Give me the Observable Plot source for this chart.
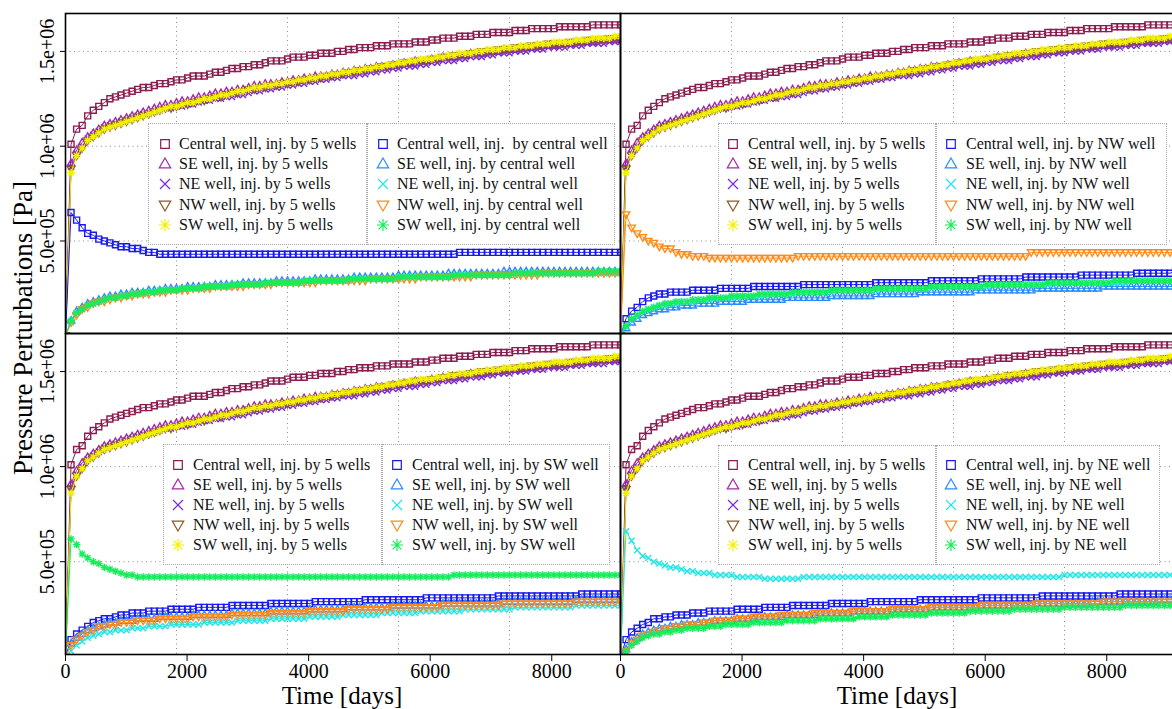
<!DOCTYPE html>
<html><head><meta charset="utf-8">
<script src="https://cdn.jsdelivr.net/npm/d3@7"></script>
<script src="https://cdn.jsdelivr.net/npm/@observablehq/plot@0.6"></script>
<style>
html,body{margin:0;padding:0;background:#fff;overflow:hidden;}
#fig{position:relative;width:1172px;height:709px;overflow:hidden;font-family:"Liberation Serif","Times New Roman",serif;color:#000;background:#fff;}
.pl{position:absolute;}
.leg{position:absolute;background:#fff;border:1px dotted #a8a8a8;box-sizing:border-box;}
.lt{position:absolute;font-family:"Liberation Serif",serif;font-size:16px;line-height:20px;height:20px;white-space:pre;color:#111;}
.ls{position:absolute;overflow:visible;}
.lab{position:absolute;white-space:nowrap;line-height:1;font-family:"Liberation Serif",serif;}
</style></head><body><div id="fig"></div>
<script>
// ---------------- data (pressure in units of 0.1 bar = 1e4 Pa) ----------------
const days = [0,91,183,274,365,457,548,639,731,822,913,1004,1096,1187,1278,1370,1461,1552,1644,1735,
1826,1918,2009,2100,2192,2283,2374,2465,2557,2648,2739,2831,2922,3013,3105,3196,3287,3379,3470,3561,
3653,3744,3835,3926,4018,4109,4200,4292,4383,4474,4566,4657,4748,4840,4931,5022,5114,5205,5296,5387,
5479,5570,5661,5753,5844,5935,6027,6118,6209,6301,6392,6483,6575,6666,6757,6848,6940,7031,7122,7214,
7305,7396,7488,7579,7670,7762,7853,7944,8036,8127,8218,8309,8401,8492,8583,8675,8766,8857,8949,9040,9131];
const xTicks = [0,2000,4000,6000,8000];
const xGridDays = [1826,3653,5479,7305];
const yTicks = [5e5,1e6,1.5e6];
const yTickLabels = ["5.0e+05","1.0e+06","1.5e+06"];
const wells = ["Central","SE","NE","NW","SW"];
const colors5 = ["#8b1c50","#a22aa8","#7b26dc","#8b5a2b","#f2f200"];
const colors1 = ["#1818f0","#2a8cff","#22e6e6","#ff8a1a","#14ee5a"];

// injected by 5 wells (same in every panel)
const central5 = [0,101,109,111,116,119,121,123,125,126,
127,128,129,130,131,131,132,133,133,134,
135,135,136,137,137,137,138,139,139,140,
141,141,142,142,143,143,144,145,145,145,
146,147,147,147,148,148,149,149,149,150,
150,151,151,152,152,152,153,153,153,154,
154,154,154,155,155,155,156,156,157,157,
157,158,158,158,159,159,159,160,160,160,
160,161,161,161,162,162,162,162,162,163,
163,163,163,163,163,164,164,164,164,164,164];
const se5 = [0,91,98,102,105,107,109,111,112,113,
114,115,116,117,118,119,120,121,122,122,
123,124,124,125,126,126,127,128,128,129,
129,130,130,131,132,132,133,133,133,134,
134,135,135,136,136,137,137,137,138,138,
139,139,140,140,141,141,142,142,142,143,
143,144,144,145,145,145,146,146,147,147,
147,148,148,149,149,149,150,150,150,151,
151,151,152,152,152,153,153,153,153,154,
154,154,155,155,155,155,156,156,156,156,157];
const ne5 = [0,89,96,100,104,106,108,110,111,112,
113,114,115,116,117,117,118,119,120,120,
121,121,122,122,123,124,124,125,125,126,
126,127,127,128,129,129,130,130,131,131,
132,132,133,133,134,134,135,135,136,136,
137,137,137,138,138,139,139,140,140,141,
141,142,142,142,143,143,144,144,145,145,
145,146,146,147,147,147,148,148,149,149,
149,150,150,150,151,151,151,152,152,152,
152,153,153,153,154,154,154,154,155,155,155];
const nw5 = [0,88,95,99,103,105,107,109,110,111,
112,113,114,115,116,117,118,119,120,120,
121,122,122,123,124,124,125,126,126,127,
128,128,129,130,130,131,131,132,132,133,
133,134,134,135,135,136,136,137,137,138,
138,139,139,140,140,141,141,142,142,143,
143,144,144,145,145,145,146,146,147,147,
148,148,148,149,149,150,150,150,151,151,
151,152,152,152,153,153,153,154,154,154,
154,155,155,155,156,156,156,156,157,157,157];
const sw5 = [0,86,95,99,103,105,107,109,110,111,
112,113,114,115,116,117,118,119,120,121,
121,122,123,123,124,125,125,126,127,127,
128,129,129,130,131,131,132,132,133,133,
134,134,135,135,136,136,137,137,138,138,
139,139,140,140,141,141,142,142,143,143,
144,144,145,145,146,146,146,147,147,148,
148,149,149,149,150,150,151,151,151,152,
152,152,153,153,153,154,154,154,155,155,
155,155,156,156,156,157,157,157,157,158,158];

// injected by central well
const centralByC = [0,65,61,57,54,53,51,50,49,48,
47,47,46,46,45,44,44,43,43,43,
43,43,43,43,43,43,43,43,43,43,
43,43,43,43,43,43,43,43,43,43,
43,43,43,43,43,43,43,43,43,43,
43,43,43,43,43,43,43,43,43,43,
43,43,43,43,43,43,43,43,43,43,
43,44,44,44,44,44,44,44,44,44,
44,44,44,44,44,44,44,44,44,44,
44,44,44,44,44,44,44,44,44,44,44];
const seByC = [0,8,13,15,17,18,19,20,21,21,
22,22,23,23,23,24,24,24,25,25,
25,25,26,26,26,26,26,27,27,27,
27,27,28,28,28,28,28,28,29,29,
29,29,29,29,29,30,30,30,30,30,
30,30,31,31,31,31,31,31,31,31,
32,32,32,32,32,32,32,32,32,33,
33,33,33,33,33,33,33,33,33,34,
34,34,34,34,34,34,34,34,34,34,
34,34,34,34,34,34,34,34,34,34,34];
const neByC = [0,7,12,14,16,17,18,19,20,20,
21,21,22,22,22,23,23,23,24,24,
24,25,25,25,25,25,26,26,26,26,
26,27,27,27,27,27,27,28,28,28,
28,28,28,28,29,29,29,29,29,29,
29,29,30,30,30,30,30,30,30,30,
30,31,31,31,31,31,31,31,31,31,
31,32,32,32,32,32,32,32,32,32,
32,32,33,33,33,33,33,33,33,33,
33,33,33,33,33,33,33,33,33,33,33];
const nwByC = [0,7,11,14,15,17,18,18,19,20,
20,21,21,22,22,22,23,23,23,24,
24,24,24,25,25,25,25,26,26,26,
26,26,26,27,27,27,27,27,28,28,
28,28,28,28,28,28,29,29,29,29,
29,29,29,29,29,30,30,30,30,30,
30,30,30,30,31,31,31,31,31,31,
31,31,31,31,32,32,32,32,32,32,
32,32,32,32,32,32,33,33,33,33,
33,33,33,33,33,33,33,33,33,33,33];
const swByC = [0,8,12,14,16,17,18,19,20,20,
21,21,22,22,23,23,23,24,24,24,
24,25,25,25,25,26,26,26,26,26,
27,27,27,27,27,27,28,28,28,28,
28,28,28,29,29,29,29,29,29,29,
29,30,30,30,30,30,30,30,30,30,
31,31,31,31,31,31,31,31,31,31,
32,32,32,32,32,32,32,32,32,32,
32,33,33,33,33,33,33,33,33,33,
33,33,33,33,33,33,34,34,34,34,34];

// injected by NW well
const centralByNW = [0,9,13,15,18,20,21,22,22,23,
23,23,23,24,24,24,24,24,25,25,
25,25,25,25,26,26,26,26,26,26,
26,26,26,27,27,27,27,27,27,27,
27,27,27,27,27,27,28,28,28,28,
28,28,28,28,28,28,29,29,29,29,
29,29,29,29,29,30,30,30,30,30,
30,30,30,31,31,31,31,31,31,31,
31,31,31,32,32,32,32,32,32,32,
32,32,32,33,33,33,33,33,33,33,34];
const seByNW = [0,4,7,9,11,12,13,14,14,15,
15,16,16,16,17,17,17,17,18,18,
18,18,18,19,19,19,19,19,19,19,
20,20,20,20,20,20,20,20,21,21,
21,21,21,21,21,21,22,22,22,22,
22,22,22,22,23,23,23,23,23,23,
23,23,23,23,24,24,24,24,24,24,
24,24,24,24,24,25,25,25,25,25,
25,25,25,25,25,25,25,26,26,26,
26,26,26,26,26,26,26,26,26,26,26];
const neByNW = [0,5,9,11,13,14,15,16,16,17,
17,18,18,18,19,19,19,20,20,20,
20,20,21,21,21,21,21,22,22,22,
22,22,23,23,23,23,23,23,23,24,
24,24,24,24,24,24,24,25,25,25,
25,25,25,25,25,25,25,26,26,26,
26,26,26,26,26,26,26,27,27,27,
27,27,27,27,27,27,27,27,28,28,
28,28,28,28,28,28,28,28,28,28,
28,28,29,29,29,29,29,29,29,29,29];
const nwByNW = [0,64,57,54,52,50,49,47,46,46,
44,43,43,42,42,42,41,41,41,41,
41,41,41,41,41,41,41,41,41,41,
41,41,42,42,42,42,42,42,42,42,
42,42,42,42,42,42,42,42,42,42,
42,42,42,42,42,42,42,42,42,42,
42,42,42,42,42,42,42,42,42,42,
42,42,42,42,44,44,44,44,44,44,
44,44,44,44,44,44,44,44,44,44,
44,44,44,44,44,44,44,44,44,44,44];
const swByNW = [0,5,9,11,13,14,15,16,17,17,
18,18,18,19,19,19,20,20,20,20,
21,21,21,21,21,22,22,22,22,22,
22,23,23,23,23,23,23,23,24,24,
24,24,24,24,24,24,25,25,25,25,
25,25,25,25,25,25,26,26,26,26,
26,26,26,26,26,26,27,27,27,27,
27,27,27,27,27,27,27,28,28,28,
28,28,28,28,28,28,28,28,28,29,
29,29,29,29,29,29,29,29,29,29,29];

// injected by SW well
const centralBySW = [0,9,12,14,16,18,19,20,20,21,
22,22,23,23,23,24,24,24,24,25,
25,25,25,25,26,26,26,26,26,26,
27,27,27,27,27,27,27,28,28,28,
28,28,28,28,28,29,29,29,29,29,
29,29,29,29,30,30,30,30,30,30,
30,30,30,30,30,31,31,31,31,31,
31,31,31,31,31,31,31,31,32,32,
32,32,32,32,32,32,32,32,32,32,
32,32,32,33,33,33,33,33,33,33,33];
const seBySW = [0,7,10,12,14,15,16,17,18,18,
19,19,19,20,20,20,20,21,21,21,
21,21,21,22,22,22,22,22,22,22,
23,23,23,23,23,23,23,24,24,24,
24,24,24,24,25,25,25,25,25,25,
25,26,26,26,26,26,26,26,26,27,
27,27,27,27,27,27,27,27,28,28,
28,28,28,28,28,28,28,28,28,29,
29,29,29,29,29,29,29,29,29,29,
29,29,30,30,30,30,30,30,30,30,30];
const neBySW = [0,3,6,8,10,11,12,13,13,14,
14,14,15,15,15,16,16,16,16,17,
17,17,17,17,17,18,18,18,18,18,
18,19,19,19,19,19,19,20,20,20,
20,20,20,20,21,21,21,21,21,21,
22,22,22,22,22,22,22,23,23,23,
23,23,23,23,24,24,24,24,24,24,
24,24,25,25,25,25,25,25,25,25,
25,26,26,26,26,26,26,26,26,26,
26,26,27,27,27,27,27,27,27,27,27];
const nwBySW = [0,6,9,11,13,14,16,16,17,17,
18,18,18,19,19,19,19,20,20,20,
20,20,20,21,21,21,21,21,21,21,
22,22,22,22,22,22,22,23,23,23,
23,23,23,23,24,24,24,24,24,24,
24,25,25,25,25,25,25,25,25,26,
26,26,26,26,26,26,26,26,27,27,
27,27,27,27,27,27,27,27,27,28,
28,28,28,28,28,28,28,28,28,28,
28,28,29,29,29,29,29,29,29,29,29];
const swBySW = [0,62,59,54,52,50,49,47,46,45,
44,43,43,42,42,42,42,42,42,42,
42,42,42,42,42,42,42,42,42,42,
42,42,42,42,42,42,42,42,42,42,
42,42,42,42,42,42,42,42,42,42,
42,42,42,42,42,42,42,42,42,42,
42,42,42,42,42,42,42,42,42,42,
43,43,43,43,43,43,43,43,43,43,
43,43,43,43,43,43,43,43,43,43,
43,43,43,43,43,43,43,43,43,43,43];

// injected by NE well
const centralByNE = [0,9,13,15,17,18,20,20,21,21,
22,22,22,23,23,23,24,24,24,24,
24,25,25,25,25,25,26,26,26,26,
26,27,27,27,27,27,27,27,28,28,
28,28,28,28,28,29,29,29,29,29,
29,29,29,29,30,30,30,30,30,30,
30,30,30,30,30,31,31,31,31,31,
31,31,31,31,31,31,32,32,32,32,
32,32,32,32,32,32,32,32,32,32,
33,33,33,33,33,33,33,33,33,33,33];
const seByNE = [0,4,8,10,12,13,14,15,15,16,
16,17,17,17,18,18,18,19,19,19,
19,20,20,20,20,21,21,21,21,21,
22,22,22,22,22,22,23,23,23,23,
23,23,24,24,24,24,24,24,24,25,
25,25,25,25,25,25,26,26,26,26,
26,26,26,26,26,27,27,27,27,27,
27,27,27,27,27,28,28,28,28,28,
28,28,28,28,28,29,29,29,29,29,
29,29,29,29,29,29,29,30,30,30,30];
const neByNE = [0,66,61,56,53,52,50,49,48,47,
47,46,45,45,44,44,44,43,43,43,
43,42,42,42,42,42,41,41,41,41,
41,41,41,42,42,42,42,42,42,42,
42,42,42,42,42,42,42,42,42,42,
42,42,42,42,42,42,42,42,42,42,
42,42,42,42,42,42,42,42,42,42,
42,42,42,42,42,42,42,42,42,42,
43,43,43,43,43,43,43,43,43,43,
43,43,43,43,43,43,43,43,43,43,43];
const nwByNE = [0,3,7,9,11,12,13,14,15,15,
16,16,17,17,17,18,18,19,19,19,
19,20,20,20,21,21,21,21,21,22,
22,22,22,22,22,23,23,23,23,23,
23,23,24,24,24,24,24,24,24,25,
25,25,25,25,25,25,26,26,26,26,
26,26,26,26,26,27,27,27,27,27,
27,27,27,27,27,28,28,28,28,28,
28,28,28,28,28,28,28,29,29,29,
29,29,29,29,29,29,29,29,29,29,29];
const swByNE = [0,3,6,8,10,11,12,12,13,13,
14,14,15,15,15,15,16,16,16,17,
17,17,17,17,18,18,18,18,18,18,
19,19,19,19,19,19,20,20,20,20,
20,20,20,21,21,21,21,21,21,22,
22,22,22,22,22,22,23,23,23,23,
23,23,23,24,24,24,24,24,24,24,
24,25,25,25,25,25,25,25,25,25,
26,26,26,26,26,26,26,26,26,26,
26,27,27,27,27,27,27,27,27,27,27];

// ---------------- symbols ----------------
const rad = s => Math.sqrt(s / Math.PI);
const symSquare = {draw(c, s){const r = rad(s); c.rect(-r, -r, 2*r, 2*r);}};
const symTriUp = {draw(c, s){const r = rad(s); c.moveTo(0, -1.3*r); c.lineTo(1.25*r, 0.85*r); c.lineTo(-1.25*r, 0.85*r); c.closePath();}};
const symCross = {draw(c, s){const r = rad(s); c.moveTo(-r, -r); c.lineTo(r, r); c.moveTo(-r, r); c.lineTo(r, -r);}};
const symTriDown = {draw(c, s){const r = rad(s); c.moveTo(0, 1.3*r); c.lineTo(1.25*r, -0.85*r); c.lineTo(-1.25*r, -0.85*r); c.closePath();}};
const symStar = {draw(c, s){const r = rad(s)*1.25, d = r*0.72;
  c.moveTo(0, -r); c.lineTo(0, r); c.moveTo(-r, 0); c.lineTo(r, 0);
  c.moveTo(-d, -d); c.lineTo(d, d); c.moveTo(-d, d); c.lineTo(d, -d);}};
const symbols = [symSquare, symTriUp, symCross, symTriDown, symStar];

const fiveWell = [central5, se5, ne5, nw5, sw5];
const allArrays = [days, ...fiveWell, centralByC, seByC, neByC, nwByC, swByC, centralByNW, seByNW, neByNW, nwByNW, swByNW,
  centralBySW, seBySW, neBySW, nwBySW, swBySW, centralByNE, seByNE, neByNE, nwByNE, swByNE];
allArrays.forEach((a, k) => { if (a.length !== 101) throw new Error("array " + k + " has length " + a.length); });

const series = vals => days.map((t, i) => ({t, p: vals[i] * 1e4}));

function panelMarks(singles, showX, showY) {
  const marks = [
    Plot.ruleX(xGridDays, {stroke: "#8a8a8a", strokeDasharray: "1,3.5", strokeWidth: 1}),
    Plot.ruleY(yTicks, {stroke: "#8a8a8a", strokeDasharray: "1,3.5", strokeWidth: 1})
  ];
  const list = [...fiveWell.map((v, k) => [v, colors5[k], symbols[k]]), ...singles.map((v, k) => [v, colors1[k], symbols[k]])];
  for (const [v, c, s] of list) {
    const d = series(v);
    marks.push(Plot.line(d, {x: "t", y: "p", stroke: c, strokeWidth: 1, clip: true}));
    marks.push(Plot.dot(d, {x: "t", y: "p", symbol: s, r: 3.0, stroke: c, strokeWidth: 1.4, fill: "none", clip: true}));
  }
  marks.push(Plot.frame({stroke: "#000", strokeWidth: 1.6}));
  if (showY) marks.push(Plot.axisY({ticks: yTicks, tickFormat: d => yTickLabels[yTicks.indexOf(d)], tickRotate: -90, tickSize: 5, tickPadding: 7, fontSize: 20, label: null}));
  if (showX) marks.push(Plot.axisX({ticks: xTicks, tickFormat: d => String(d), tickSize: 7, tickPadding: 2, fontSize: 20, label: null}));
  return marks;
}

const panels = [
  {singles: [centralByC, seByC, neByC, nwByC, swByC], by: ["inj.  by central well", "inj. by central well"], left: 0, top: 13, ml: 65, h: 320, mb: 0, sx: false, sy: true,
   boxes: [[148,123,367,245],[367,123,615,245]], symX: [165,383], textX: [179,397], rows: [144,164,184,204.5,224.5]},
  {singles: [centralByNW, seByNW, neByNW, nwByNW, swByNW], by: ["inj. by NW well", "inj. by NW well"], left: 620, top: 13, ml: 0, h: 320, mb: 0, sx: false, sy: false,
   boxes: [[717.5,123,935.5,245],[935.5,123,1167,245]], symX: [733,951], textX: [748,966], rows: [144,164,184,204.5,224.5]},
  {singles: [centralBySW, seBySW, neBySW, nwBySW, swBySW], by: ["inj. by SW well", "inj. by SW well"], left: 0, top: 333, ml: 65, h: 321, mb: 55, sx: true, sy: true,
   boxes: [[163,444,381.5,565],[381.5,444,610,565]], symX: [178,397], textX: [193,412], rows: [465,485,505,525,545]},
  {singles: [centralByNE, seByNE, neByNE, nwByNE, swByNE], by: ["inj. by NE well", "inj. by NE well"], left: 620, top: 333, ml: 0, h: 321, mb: 55, sx: true, sy: false,
   boxes: [[717.5,445,935.5,565],[935.5,445,1160,565]], symX: [733,951], textX: [748,966], rows: [465,485,505,525,545]}
];

const fig = document.getElementById("fig");
let html = "";
for (const P of panels) {
  const chart = Plot.plot({
    width: P.ml + 555, height: P.h + P.mb,
    marginLeft: P.ml, marginRight: 0, marginTop: 0, marginBottom: P.mb,
    x: {domain: [0, 9131], axis: P.sx ? undefined : null},
    y: {domain: [12000, 1.70e6], axis: P.sy ? undefined : null},
    style: {fontFamily: '"Liberation Serif", serif', fontSize: "20px", color: "#000", background: "transparent", overflow: "visible"},
    marks: panelMarks(P.singles, P.sx, P.sy)
  });
  chart.classList.add("pl");
  chart.style.left = P.left + "px";
  chart.style.top = P.top + "px";
  fig.appendChild(chart);
}

function legendSym(x, y, k, color) {
  const r = [4.3, 4.6, 5.0, 4.6, 4.8][k];
  const p = d3.path(); symbols[k].draw(p, Math.PI * r * r);
  return `<svg class="ls" style="left:${x-10}px;top:${y-10}px" width="20" height="20"><path transform="translate(10,10)" d="${p}" fill="none" stroke="${color}" stroke-width="1.2"/></svg>`;
}
for (const P of panels) {
  for (const [x0, y0, x1, y1] of P.boxes)
    html += `<div class="leg" style="left:${x0}px;top:${y0}px;width:${x1-x0}px;height:${y1-y0}px"></div>`;
  wells.forEach((w, k) => {
    const y = P.rows[k];
    html += legendSym(P.symX[0], y, k, colors5[k]);
    html += `<div class="lt" style="left:${P.textX[0]}px;top:${y-10}px">${w} well, inj. by 5 wells</div>`;
    html += legendSym(P.symX[1], y, k, colors1[k]);
    html += `<div class="lt" style="left:${P.textX[1]}px;top:${y-10}px">${w} well, ${k === 0 ? P.by[0] : P.by[1]}</div>`;
  });
}
html += `<div class="lab" style="left:23px;top:328px;width:0;height:0"><span style="position:absolute;font-size:27px;transform:translate(-50%,-50%) rotate(-90deg);white-space:nowrap;line-height:1">Pressure Perturbations [Pa]</span></div>`;
html += `<div class="lab" style="left:342px;top:686.6px;font-size:25px;line-height:18px;height:18px;transform:translateX(-50%)">Time [days]</div>`;
html += `<div class="lab" style="left:897px;top:686.6px;font-size:25px;line-height:18px;height:18px;transform:translateX(-50%)">Time [days]</div>`;
fig.insertAdjacentHTML("beforeend", html);
</script></body></html>
